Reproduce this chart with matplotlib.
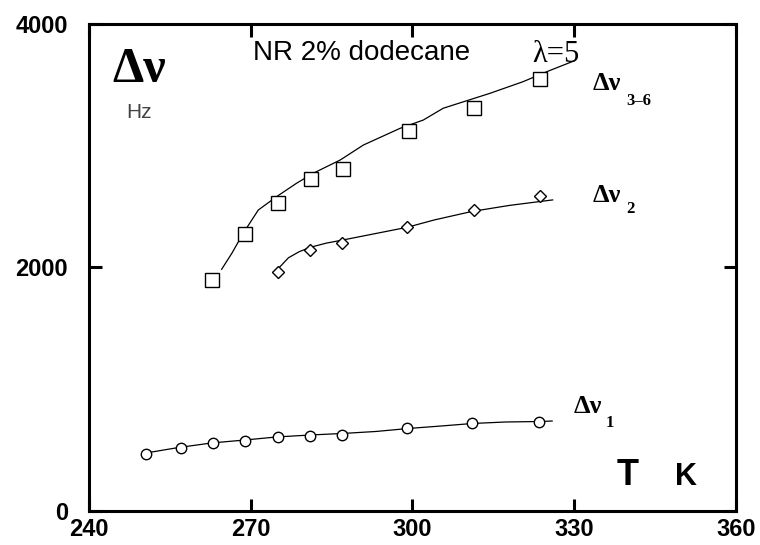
import matplotlib
matplotlib.use("Agg")
import matplotlib.pyplot as plt

# Donnees (T en K, delta nu en Hz)
T_1 = [250.5, 257, 263, 269, 275, 281, 287, 299, 311, 323.5]
dnu_1 = [470, 520, 560, 578, 605, 618, 628, 680, 720, 732]

T_2 = [275, 281, 287, 299, 311.5, 323.7]
dnu_2 = [1966, 2144, 2204, 2333, 2472, 2587]

T_36 = [262.9, 269, 275.1, 281.1, 287.2, 299.4, 311.5, 323.6]
dnu_36 = [1897, 2278, 2527, 2724, 2807, 3124, 3308, 3546]

# Courbes d'ajustement (tracees a la main sur l'original)
fit_T_1 = [250.5, 256.7, 262.8, 268.9, 274.8, 281.0, 287.1, 293.2, 299.3, 305.3, 311.2, 317.3, 323.6, 325.9]
fit_dnu_1 = [476, 522, 559, 583, 608, 624, 637, 653, 678, 698, 719, 731, 735, 739]

fit_T_2 = [275.3, 277, 279, 281, 284, 287, 291, 295, 299, 304, 311, 318, 326]
fit_dnu_2 = [2000, 2080, 2130, 2165, 2200, 2225, 2260, 2295, 2330, 2390, 2460, 2510, 2555]

fit_T_36 = [264.6, 266.5, 268.6, 271.4, 274.8, 278.5, 281.6, 286.6, 290.9, 297.7, 302.0, 305.7, 314.4, 320.5, 324.9, 330.1]
fit_dnu_36 = [1985, 2117, 2281, 2472, 2582, 2692, 2774, 2883, 3006, 3143, 3211, 3308, 3431, 3526, 3608, 3699]

x_ticks = [240, 270, 300, 330, 360]
y_ticks = [0, 2000, 4000]

fig = plt.figure(figsize=(7.6, 5.45), dpi=100)
ax = fig.add_axes([0.1171, 0.0624, 0.8513, 0.8936])

# Courbes
ax.plot(fit_T_1, fit_dnu_1, color="black", lw=0.9)
ax.plot(fit_T_2, fit_dnu_2, color="black", lw=0.9)
ax.plot(fit_T_36, fit_dnu_36, color="black", lw=0.9)

# Points
ax.plot(T_1, dnu_1, "o", ms=7.5, mfc="white", mec="black", mew=1.0, ls="none")
ax.plot(T_2, dnu_2, "D", ms=6.5, mfc="white", mec="black", mew=1.0, ls="none")
ax.plot(T_36, dnu_36, "s", ms=10, mfc="white", mec="black", mew=1.0, ls="none")

ax.set_xlim(240, 360)
ax.set_ylim(0, 4000)
ax.set_xticks(x_ticks)
ax.set_yticks(y_ticks)

for s in ax.spines.values():
    s.set_linewidth(2.2)

ax.tick_params(axis="both", which="major", direction="in", length=9, width=2.2,
               top=True, right=True, labelsize=17)
ax.tick_params(axis="x", pad=5)
ax.tick_params(axis="y", pad=15)
for lab in ax.get_xticklabels() + ax.get_yticklabels():
    lab.set_family("Liberation Sans")
    lab.set_fontweight("bold")

# Textes
serif = "Liberation Serif"
ax.text(244.3, 3524, "\u0394\u03bd", family=serif, fontweight="bold", fontsize=36)
ax.text(247.0, 3228, "Hz", family="Liberation Sans", fontsize=15, color="#444444")
ax.text(270.4, 3704, "NR 2% dodecane", family="Liberation Sans", fontsize=20)
ax.text(322.3, 3688, "\u03bb=5", family=serif, fontsize=22)

ax.text(333.5, 3458, "\u0394\u03bd", family=serif, fontweight="bold", fontsize=19)
ax.text(339.6, 3335, "3\u20136", family=serif, fontweight="bold", fontsize=12)
ax.text(333.5, 2538, "\u0394\u03bd", family=serif, fontweight="bold", fontsize=19)
ax.text(339.6, 2448, "2", family=serif, fontweight="bold", fontsize=12)
ax.text(329.8, 805, "\u0394\u03bd", family=serif, fontweight="bold", fontsize=19)
ax.text(335.9, 690, "1", family=serif, fontweight="bold", fontsize=12)

ax.text(337.9, 214, "T", family="Liberation Sans", fontweight="bold", fontsize=26)
ax.text(348.7, 214, "K", family="Liberation Sans", fontweight="bold", fontsize=22)

fig.savefig("out.png", dpi=100)
